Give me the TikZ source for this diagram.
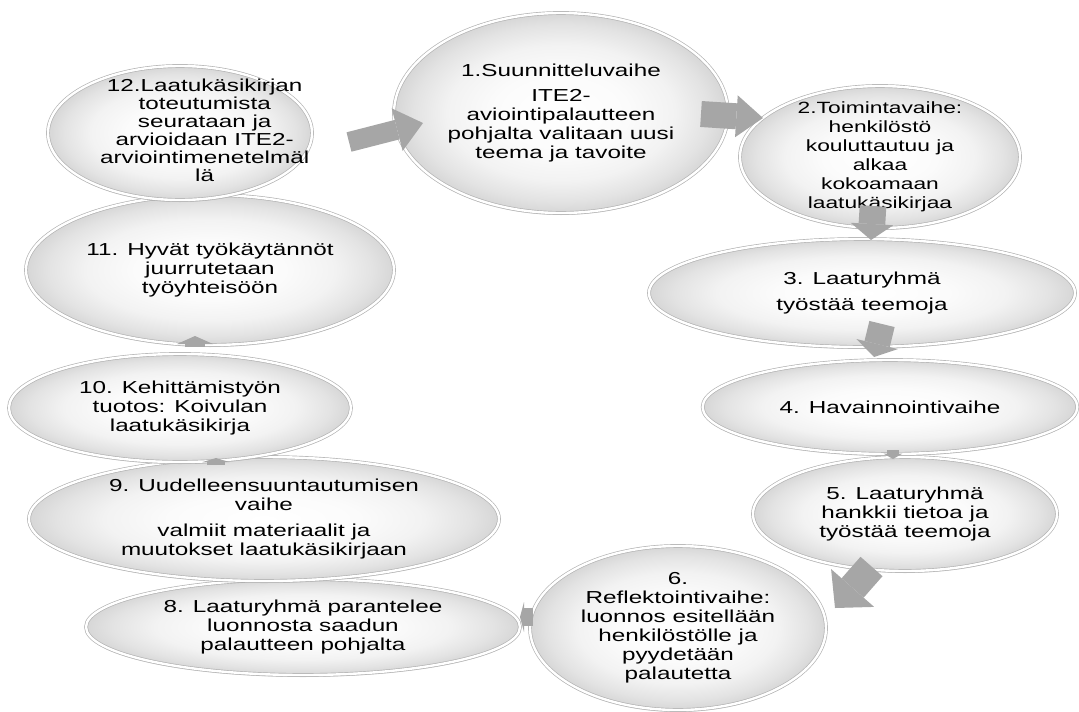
\documentclass[tikz,border=0pt]{standalone}
\usepackage{fontspec}
\newfontfamily\phasefont{Liberation Sans}[FakeStretch=1.4]
\usetikzlibrary{
    arrows.meta,
    shapes.geometric,
    shadows
}
\pgfdeclareradialshading{phaseglow}{\pgfpoint{0bp}{0bp}}{%
  color(0bp)=(white); color(10bp)=(gray!3); color(17bp)=(gray!10);
  color(22bp)=(gray!22); color(25bp)=(gray!32); color(50bp)=(gray!32)}
\tikzset{
  phase/.style={
    ellipse,
    inner sep=-4cm,
    outer sep=0pt,
    draw=gray!60,
    line width=0.5pt,
    double=white,
    double distance=1.8pt,
    shading=phaseglow,
    drop shadow={opacity=0.3, shadow xshift=0pt, shadow yshift=-1.5pt},
    align=center,
    font=\phasefont\fontsize{13}{14.2}\selectfont
  },
  flow/.style n args={3}{
    draw=gray!70,
    line width=#1,
    -{Triangle[width=#2, length=#3, line width=0pt]}
  }
}

\begin{document}
\begin{tikzpicture}[x=0.75pt, y=-0.75pt]
\useasboundingbox (0,0) rectangle (1079,711);
\node[phase, minimum width=250.5pt, minimum height=150pt] (v1) at (561,113)
  {1.Suunnitteluvaihe\\[5pt]ITE2-\\aviointipalautteen\\pohjalta valitaan uusi\\teema ja tavoite};
\node[phase, minimum width=210pt, minimum height=106.5pt,
  font=\phasefont\fontsize{12.2}{14.2}\selectfont] (v2) at (880,157)
  {2.Toimintavaihe:\\henkilöstö\\kouluttautuu ja\\alkaa\\kokoamaan\\laatukäsikirjaa};
\node[phase, minimum width=319.5pt, minimum height=81pt] (v3) at (862,293)
  {3. Laaturyhmä\\[5pt]työstää teemoja};
\node[phase, minimum width=281pt, minimum height=70.5pt] (v4) at (890,407)
  {4. Havainnointivaihe};
\node[phase, minimum width=228pt, minimum height=85.5pt] (v5) at (905,514)
  {5. Laaturyhmä\\hankkii tietoa ja\\työstää teemoja};
\node[phase, minimum width=222pt, minimum height=123pt] (v6) at (678,628)
  {6.\\Reflektointivaihe:\\luonnos esitellään\\henkilöstölle ja\\pyydetään\\palautetta};
\node[phase, minimum width=325.5pt, minimum height=72pt] (v8) at (303,627)
  {8. Laaturyhmä parantelee\\luonnosta saadun\\palautteen pohjalta};
\node[phase, minimum width=352.5pt, minimum height=93pt] (v9) at (264,519)
  {9. Uudelleensuuntautumisen\\vaihe\\[5pt]valmiit materiaalit ja\\muutokset laatukäsikirjaan};
\node[phase, minimum width=256.5pt, minimum height=81pt] (v10) at (180,408)
  {10. Kehittämistyön\\tuotos: Koivulan\\laatukäsikirja};
\node[phase, minimum width=276pt, minimum height=112.5pt] (v11) at (210,270)
  {11. Hyvät työkäytännöt\\juurrutetaan\\työyhteisöön};
\node[phase, minimum width=198pt, minimum height=100.5pt,
  font=\phasefont\fontsize{13}{13.3}\selectfont] (v12) at (180,133)
  {\hspace*{37pt}\begin{tabular}{@{}c@{}}12.Laatukäsikirjan\\toteutumista\\seurataan ja\\arvioidaan ITE2-\\arviointimenetelmäl\\lä\end{tabular}};
\draw[flow={19.5pt}{31.5pt}{20pt}] ([shift={(-27,1)}]v1.east) -- ([shift={(23,-39)}]v2.west);
\draw[flow={20pt}{32pt}{12pt}] ([shift={(-7,-22)}]v2.south) -- ([shift={(9,1)}]v3.north);
\draw[flow={19.5pt}{32pt}{10pt}] ([shift={(20,-23)}]v3.south) -- ([shift={(-16,-3)}]v4.north);
\draw[flow={9pt}{14pt}{4pt}] ([shift={(3,-4)}]v4.south) -- ([shift={(-12,2)}]v5.north);
\draw[flow={22pt}{43pt}{20pt}] ([shift={(-33.5,-4.5)}]v5.south) -- ([shift={(9,-20)}]v6.east);
\draw[flow={13.5pt}{22.5pt}{3pt}] ([shift={(3,-11)}]v6.west) -- ([shift={(0,-10)}]v8.east);
\draw[flow={14pt}{20pt}{3pt}] ([shift={(-48,8)}]v9.north) -- ([shift={(36,-4)}]v10.south);
\draw[flow={15pt}{27pt}{6pt}] ([shift={(15,-7)}]v10.north) -- ([shift={(-15,-9)}]v11.south);
\draw[flow={15pt}{33pt}{20pt}] ([shift={(37,9)}]v12.east) -- ([shift={(29,10)}]v1.west);
\end{tikzpicture}
\end{document}
